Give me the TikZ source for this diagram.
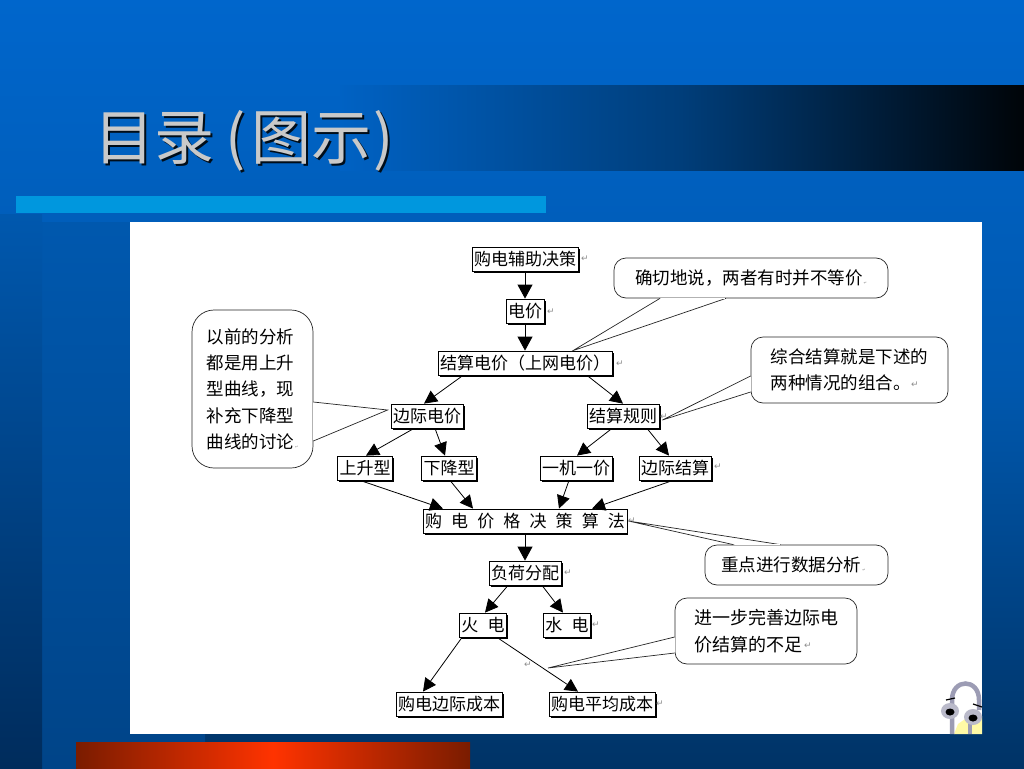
\documentclass[tikz,border=0pt]{standalone}
\usepackage{fontspec}
\setmainfont{Noto Sans CJK SC}
\newfontfamily\widecjk[WordSpace=2.4]{Noto Sans CJK SC}
\newfontfamily\markfont{DejaVu Sans}
\usetikzlibrary{arrows.meta, shadows}
\definecolor{slidetop}{HTML}{0066CC}
\definecolor{slidemid}{HTML}{0058AE}
\definecolor{slidelow}{HTML}{003366}
\definecolor{sideblue}{HTML}{004488}
\definecolor{sidedark}{HTML}{002C5C}
\definecolor{barcyan}{HTML}{0097DE}
\definecolor{barred}{HTML}{FF3300}
\definecolor{bardark}{HTML}{7A1C00}
\definecolor{clipgrey}{HTML}{9C9CB4}
\tikzset{
x=1pt, y=-1pt, % coordinates are the pixels of the slide
>={Triangle[width=13pt,length=13pt]}, % black heads
boxnode/.style={draw=black, line width=0.8pt, fill=white, inner sep=2pt, minimum height=24pt,
  font=\fontsize{17}{17}\selectfont, general shadow={fill=black, shadow xshift=1.5pt, shadow yshift=-1.5pt}},
widebox/.style={boxnode, font=\fontsize{17}{17}\selectfont\widecjk},
noteform/.style={draw=black!85, line width=0.7pt, fill=white, rounded corners=#1, align=left, inner sep=0pt,
  font=\fontsize{17.5}{26.3}\selectfont},
noteform/.default=12pt,
link/.style={->, line width=0.8pt},
linkset/.style={every edge/.style={draw, link}},
biglink/.style={-{Triangle[width=15pt,length=14pt]}, line width=0.8pt},
retmark/.style={text=black!45, inner sep=0pt, font=\fontsize{9}{9}\selectfont\markfont},
}
% tail of a note: border point, tip, border point
\newcommand{\notetail}[3]{
  \fill[white] (#1) -- (#2) -- (#3) -- cycle;
  \draw[draw=black!85, line width=0.7pt] (#1) -- (#2) -- (#3);
  \draw[white, line width=1.2pt, shorten >=1pt, shorten <=1pt] (#1) -- (#3);
}
% squeezed paragraph mark at the end of a note
\newcommand{\tinyret}{\hspace{1pt}{\markfont\fontsize{4}{4}\selectfont\color{black!45}↵}}

\begin{document}
\begin{tikzpicture}
\useasboundingbox (0,0) rectangle (1024,768);

% slide background
\shade[top color=slidetop, bottom color=slidelow, middle color=slidemid] (0,0) rectangle (1024,768);
\shade[top color=slidemid, bottom color=sideblue] (42,222) rectangle (205,768);
\shade[top color=slidemid, bottom color=sidedark] (0,214) rectangle (42,768);
\shade[left color=slidetop!96!black, right color=black!92!slidelow, middle color=slidemid!70!black] (340,85) rectangle (1024,170);
\fill[barcyan] (16,196) rectangle (546,213);
\shade[left color=bardark, right color=bardark, middle color=barred] (76,742) rectangle (470,768);
\fill[white] (130,222) rectangle (982,734);

% title
\node[anchor=west, inner sep=0pt, text=black!75!slidelow, font=\fontsize{60}{60}\selectfont] (titledark) at (96,143) {目录\hspace{11pt}(\hspace{6pt}图示\hspace{2pt})};
\node[anchor=west, inner sep=0pt, text=black!21, font=\fontsize{60}{60}\selectfont] (title) at (94,141) {目录\hspace{11pt}(\hspace{6pt}图示\hspace{2pt})};

% boxes
\node[boxnode] (gddec) at (525,259) {购电辅助决策};
\node[boxnode] (price) at (525,311) {电价};
\node[boxnode] (settle) at (525,363) {结算电价（上网电价）};
\node[boxnode] (margin) at (427,416) {边际电价};
\node[boxnode] (rules) at (623,416) {结算规则};
\node[boxnode] (upcurve) at (365,468) {上升型};
\node[boxnode] (downcurve) at (449,468) {下降型};
\node[boxnode] (oneprice) at (576,468) {一机一价};
\node[boxnode] (marginset) at (675,468) {边际结算};
\node[widebox] (algo) at (525,521) {购 电 价 格 决 策 算 法};
\node[boxnode] (load) at (525,573) {负荷分配};
\node[widebox] (thermal) at (483,625) {火 电};
\node[widebox] (hydro) at (567,625) {水 电};
\node[boxnode] (margcost) at (449,704) {购电边际成本};
\node[boxnode] (avgcost) at (602,704) {购电平均成本};

% notes
\node[noteform, minimum width=274pt, minimum height=40pt] (noteeq) at (751,278) {确切地说，两者有时并不等价\tinyret};
\node[noteform, minimum width=197pt, minimum height=66pt] (notemix) at (849.5,370) {综合结算就是下述的\\两种情况的组合。};
\node[noteform=22pt, minimum width=121pt, minimum height=158pt] (noteold) at (252.5,389) {以前的分析\\都是用上升\\型曲线，现\\补充下降型\\曲线的讨论\tinyret};
\node[noteform, minimum width=183pt, minimum height=40pt] (notedata) at (796.5,565) {重点进行数据分析\tinyret\hspace{6pt}};
\node[noteform, minimum width=182pt, minimum height=66pt, font=\fontsize{18}{26.3}\selectfont] (notenext) at (766,631) {进一步完善边际电\\价结算的不足};

\coordinate (tipeq) at ([xshift=48pt]settle.north);
\coordinate (tipmix) at ([xshift=3pt,yshift=-4pt]rules.east);
\coordinate (tipold) at ([xshift=-3pt,yshift=6pt]margin.west);
\coordinate (tipdata) at ([xshift=1pt]algo.east);
\coordinate (tipnext) at (548,668);
\notetail{[xshift=-91pt]noteeq.south}{tipeq}{[xshift=-25pt]noteeq.south}
\notetail{[yshift=-6pt]notemix.west}{tipmix}{[yshift=-22pt]notemix.west}
\notetail{[yshift=-13pt]noteold.east}{tipold}{[yshift=-52pt]noteold.east}
\notetail{[xshift=-63pt]notedata.north}{tipdata}{[xshift=-16pt]notedata.north}
\notetail{[yshift=-6pt]notenext.west}{tipnext}{[yshift=-22pt]notenext.west}

% connectors
\draw[biglink] (gddec) -- (price);
\draw[biglink] (price) -- (settle);
\draw[biglink] (algo) -- (load);
\path[linkset] ([xshift=-62pt]settle.south) edge ([xshift=-3pt]margin.north)
  ([xshift=62pt]settle.south) edge (rules.north)
  ([xshift=-13pt]margin.south) edge ([xshift=1pt]upcurve.north)
  ([xshift=8pt]margin.south) edge ([xshift=-4pt]downcurve.north)
  ([xshift=-11pt]rules.south) edge ([xshift=1pt]oneprice.north)
  ([xshift=24pt]rules.south) edge ([xshift=-6pt]marginset.north)
  ([xshift=-5pt]upcurve.south) edge ([xshift=-82pt]algo.north)
  ([xshift=1pt]downcurve.south) edge ([xshift=-52pt]algo.north)
  ([xshift=-7pt]oneprice.south) edge ([xshift=34pt]algo.north)
  ([xshift=-2pt]marginset.south) edge ([xshift=67pt]algo.north)
  ([xshift=-17pt]load.south) edge ([xshift=2pt]thermal.north)
  ([xshift=17pt]load.south) edge ([xshift=-4pt]hydro.north)
  ([xshift=-21pt]thermal.south) edge ([xshift=-26pt]margcost.north)
  ([xshift=14pt]thermal.south) edge ([xshift=-24pt]avgcost.north);

% paragraph marks
\node[retmark] (mark1) at (585,259) {↵};
\node[retmark] (mark2) at (551,312) {↵};
\node[retmark] (mark3) at (620,364) {↵};
\node[retmark] (mark4) at (664,417) {↵};
\node[retmark] (mark5) at (718,467) {↵};
\node[retmark] (mark6) at (632,521) {↵};
\node[retmark] (mark7) at (568,573) {↵};
\node[retmark] (mark8) at (596,625) {↵};
\node[retmark] (mark9) at (660,704) {↵};
\node[retmark] (mark10) at (915,385) {↵};
\node[retmark] (mark11) at (808,646) {↵};
\node[retmark] (mark12) at (528,665) {↵};

% paper clip in the corner
\begin{scope}
\clip (130,222) rectangle (982,734);
\fill[yellow!35!white] (958,724) -- (975,712) -- (982,716) -- (982,734) -- (954,734) -- cycle;
\draw[clipgrey, line width=4.5pt] (952,734) -- (952,700) .. controls (952,678) and (979,678) .. (979,700) -- (979,710);
\draw[clipgrey, line width=4.5pt] (970,734) -- (970,722);
\fill[clipgrey!70!white] (950,711) ellipse (9 and 8);
\fill[clipgrey!70!white] (973,717) ellipse (9 and 8);
\fill[black] (950,712) ellipse (4.5 and 3.5);
\fill[black] (973,718) ellipse (4.5 and 3.5);
\draw[black, line width=1.2pt] (946,700) -- (955,698);
\draw[black, line width=1.2pt] (973,704) -- (982,707);
\end{scope}
\end{tikzpicture}
\end{document}
